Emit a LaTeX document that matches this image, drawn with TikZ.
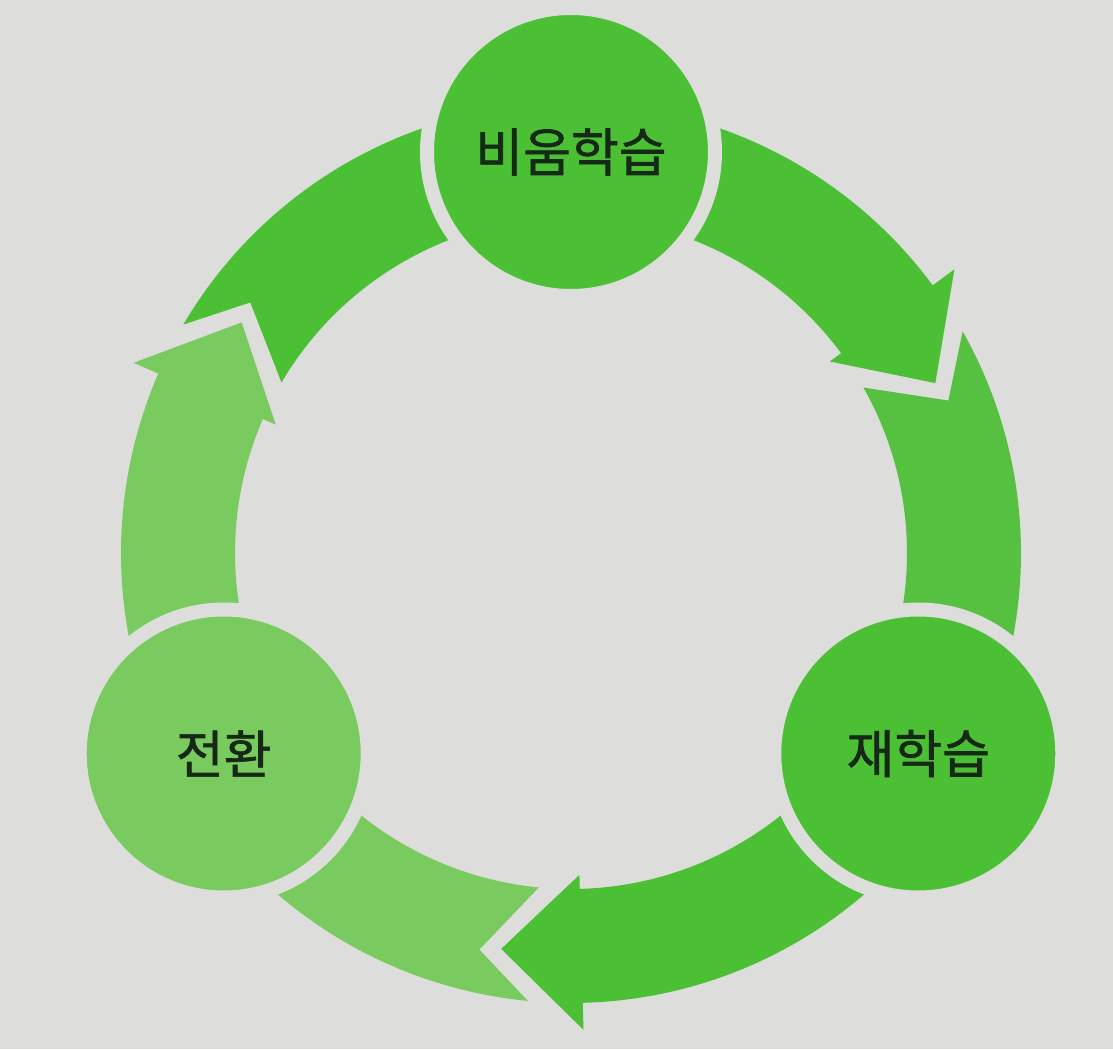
\documentclass[tikz,border=0pt]{standalone}
\usepackage{fontspec}
\newfontfamily\kr{Noto Sans CJK KR}[FakeBold=1.2]

\definecolor{bgcol}{RGB}{221,221,219}
\definecolor{leafdark}{RGB}{76,192,52}
\definecolor{leafmid}{RGB}{86,192,64}
\definecolor{leaflight}{RGB}{121,203,96}
\definecolor{inkgreen}{RGB}{22,40,22}

\begin{document}
\begin{tikzpicture}[x=0.5pt, y=0.5pt,
		stage/.style={circle, draw=bgcol, line width=7pt, minimum size=144pt, inner sep=0pt, outer sep=0pt,
			font=\kr\fontsize{26}{31}\selectfont, text=inkgreen}]
	\fill[bgcol] (-571,-496) rectangle (542,553);
	\useasboundingbox (-571,-496) rectangle (542,553);

	% pieces leaving a circle, with the head
	\foreach \a/\t/\c in {90/25/leafdark, -30/-100/leafdark, 210/145/leaflight} {
		\fill[\c] (\a:450) arc[start angle=\a, end angle=\t+11.5, radius=450] -- (\t+11.5:477) -- (\t:402)
			-- (\t+11.5:322) -- (\t+11.5:336) arc[start angle=\t+11.5, end angle=\a, radius=336] -- cycle;
	};
	% pieces with the notch, running into the next circle
	\foreach \t/\b/\c in {25/-30/leafmid, -100/-150/leaflight, 145/90/leafdark} {
		\fill[\c] (\t+4.5:450) arc[start angle=\t+4.5, end angle=\b, radius=450] -- (\b:336)
			arc[start angle=\b, end angle=\t+4.5, radius=336] -- (\t-3:407) -- cycle;
	};

	\node[stage, fill=leafdark] (unlearn) at (90:401) {비움학습};
	\node[stage, fill=leafdark] (relearn) at (-30:401) {재학습};
	\node[stage, fill=leaflight] (turn) at (210:401) {전환};
\end{tikzpicture}
\end{document}
